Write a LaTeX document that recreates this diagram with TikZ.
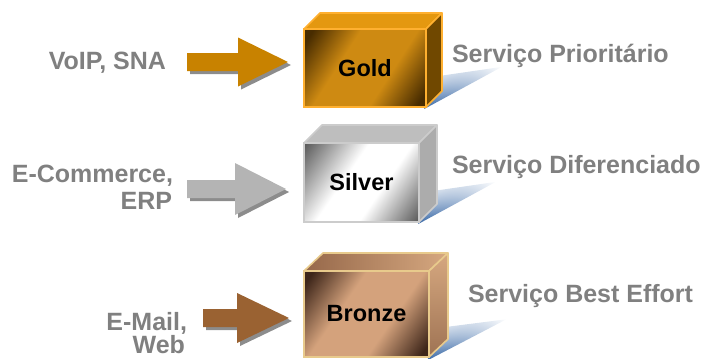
\documentclass[tikz,border=0pt]{standalone}
\usepackage{fontspec}
\setmainfont{Liberation Sans}
\usetikzlibrary{calc,fadings}

% palette
\definecolor{labelgray}{RGB}{128,128,128}
\definecolor{arrowshadow}{RGB}{140,140,140}
\definecolor{shadowblue}{RGB}{56,104,166}
% gold
\definecolor{goldarrow}{RGB}{200,130,0}
\definecolor{golddark}{RGB}{72,44,0}
\definecolor{goldmid}{RGB}{206,138,18}
\definecolor{goldtop}{RGB}{228,152,16}
\definecolor{goldside}{RGB}{112,72,0}
\definecolor{goldedge}{RGB}{255,176,48}
% silver
\definecolor{silverarrow}{RGB}{180,180,180}
\definecolor{silverdark}{RGB}{92,92,92}
\definecolor{silvermid}{RGB}{255,255,255}
\definecolor{silvertop}{RGB}{190,190,190}
\definecolor{silverside}{RGB}{172,172,172}
\definecolor{silveredge}{RGB}{204,204,204}
% bronze
\definecolor{bronzearrow}{RGB}{154,98,50}
\definecolor{bronzedark}{RGB}{62,38,26}
\definecolor{bronzemid}{RGB}{212,162,124}
\definecolor{bronzetopl}{RGB}{150,104,74}
\definecolor{bronzetopr}{RGB}{214,168,128}
\definecolor{bronzeside}{RGB}{200,148,108}
\definecolor{bronzeedge}{RGB}{232,202,140}

% front faces: dark corners, light centre
\pgfdeclareverticalshading{goldface}{100bp}{color(0bp)=(golddark); color(34bp)=(golddark); color(44bp)=(goldmid); color(56bp)=(goldmid); color(66bp)=(golddark); color(100bp)=(golddark)}
\pgfdeclareverticalshading{silverface}{100bp}{color(0bp)=(silverdark); color(33bp)=(silverdark); color(45bp)=(silvermid); color(54bp)=(silvermid); color(67bp)=(silverdark); color(100bp)=(silverdark)}
\pgfdeclareverticalshading{bronzeface}{100bp}{color(0bp)=(bronzedark); color(33bp)=(bronzedark); color(44bp)=(bronzemid); color(56bp)=(bronzemid); color(67bp)=(bronzedark); color(100bp)=(bronzedark)}

\tikzset{
  lbl/.style={text=labelgray, font=\fontsize{25}{28}\selectfont\bfseries, inner sep=0pt, outer sep=0pt},
  front/.style={inner sep=0pt, outer sep=0pt, line width=1.6pt,
    font=\fontsize{23.5}{26}\selectfont\bfseries, text=black},
  face/.style={line width=1.6pt, line join=round},
  arrowshade/.style={fill=arrowshadow},
}

% block arrow: start x, centre y, head base x, tip x, shaft half height, head half height
\newcommand\blockarrow[7]{%
  \path[#7] (#1,#2-#5) -- (#3,#2-#5) -- (#3,#2-#6) -- (#4,#2) -- (#3,#2+#6) -- (#3,#2+#5) -- (#1,#2+#5) -- cycle;}

% shadow wedge running up to the right from a box corner
\newcommand\boxshadow[2]{%
  \begin{scope}[transform canvas={shift={(#1)}, rotate=#2}]
    \shade[left color=shadowblue, middle color=shadowblue!55!white, right color=white, path fading=north]
      (0pt,-1pt) -- (88pt,-1pt) -- (4pt,30pt) -- cycle;
  \end{scope}}

% diagonal gradient of a front face: centre x, centre y, width, height, shading, angle
\newcommand\frontshade[6]{%
  \begin{scope}
    \clip (#1-#3/2,#2-#4/2) rectangle (#1+#3/2,#2+#4/2);
    \begin{scope}[transform canvas={shift={(#1,#2)}, rotate=#6}]
      \shade[shading=#5] (-100pt,-100pt) rectangle (100pt,100pt);
    \end{scope}
  \end{scope}}

% cuboid: front node name, depth dx, dy (image units), top fill, side fill, edge colour
\newcommand\cuboidfaces[6]{%
  \path[face, draw=#6, fill=#4] (#1.north west) -- ++(#2,-#3) -- ($(#1.north east)+(#2,-#3)$) -- (#1.north east) -- cycle;
  \path[face, draw=#6, fill=#5] (#1.north east) -- ++(#2,-#3) -- ($(#1.south east)+(#2,-#3)$) -- (#1.south east) -- cycle;}

\begin{document}
\begin{tikzpicture}[x=1pt, y=-1pt]
  \useasboundingbox (0,0) rectangle (702,359);

  % lower front corners where the shadows start
  \coordinate (gc) at (424,108);
  \coordinate (sc) at (418,223);
  \coordinate (bc) at (428,359);

  % blue shadows behind the boxes
  \boxshadow{gc}{28.5}
  \boxshadow{sc}{28.5}
  \boxshadow{bc}{27.5}

  % ---------- Gold ----------
  \blockarrow{190}{65}{241}{291}{9}{24.5}{arrowshade}
  \blockarrow{187}{62}{238}{288}{9}{24.5}{fill=goldarrow}
  \frontshade{365}{68}{122}{78}{goldface}{57.4}
  \node[front, draw=goldedge, minimum width=122pt, minimum height=78pt]
    (gold) at (365,68) {Gold};
  \cuboidfaces{gold}{16}{16}{goldtop}{goldside}{goldedge}

  % ---------- Silver ----------
  \blockarrow{190}{192}{238}{289}{9}{26}{arrowshade}
  \blockarrow{187}{189}{235}{286}{9}{26}{fill=silverarrow}
  \frontshade{361.5}{182.5}{115}{79}{silverface}{55.5}
  \node[front, draw=silveredge, minimum width=115pt, minimum height=79pt]
    (silver) at (361.5,182.5) {Silver};
  \cuboidfaces{silver}{18}{18}{silvertop}{silverside}{silveredge}

  % ---------- Bronze ----------
  \blockarrow{206}{321}{240}{292}{9}{25}{arrowshade}
  \blockarrow{203}{318}{237}{289}{9}{25}{fill=bronzearrow}
  \frontshade{366.5}{314}{125}{86}{bronzeface}{55.5}
  \node[front, draw=bronzeedge, minimum width=125pt, minimum height=86pt]
    (bronze) at (366.5,314) {Bronze};
  \path[face, draw=bronzeedge, left color=bronzetopl, right color=bronzetopr]
    (bronze.north west) -- ++(19,-18) -- ($(bronze.north east)+(19,-18)$) -- (bronze.north east) -- cycle;
  \path[face, draw=bronzeedge, top color=bronzetopr, bottom color=bronzeside!70!bronzedark]
    (bronze.north east) -- ++(19,-18) -- ($(bronze.south east)+(19,-18)$) -- (bronze.south east) -- cycle;

  % ---------- traffic labels ----------
  \node[lbl, anchor=base east] (voip) at (166,69) {VoIP, SNA};
  \node[lbl, anchor=base east] (ecom) at (173,182) {E-Commerce,};
  \node[lbl, anchor=base east] (erp)  at (172,209) {ERP};
  \node[lbl, anchor=base east] (mail) at (187,330) {E-Mail,};
  \node[lbl, anchor=base east] (web)  at (185,353) {Web};

  % ---------- service labels ----------
  \node[lbl, anchor=base west] (prio) at (452,62) {Serviço Prioritário};
  \node[lbl, anchor=base west] (dif)  at (452,173) {Serviço Diferenciado};
  \node[lbl, anchor=base west] (best) at (468,302) {Serviço Best Effort};
\end{tikzpicture}
\end{document}
